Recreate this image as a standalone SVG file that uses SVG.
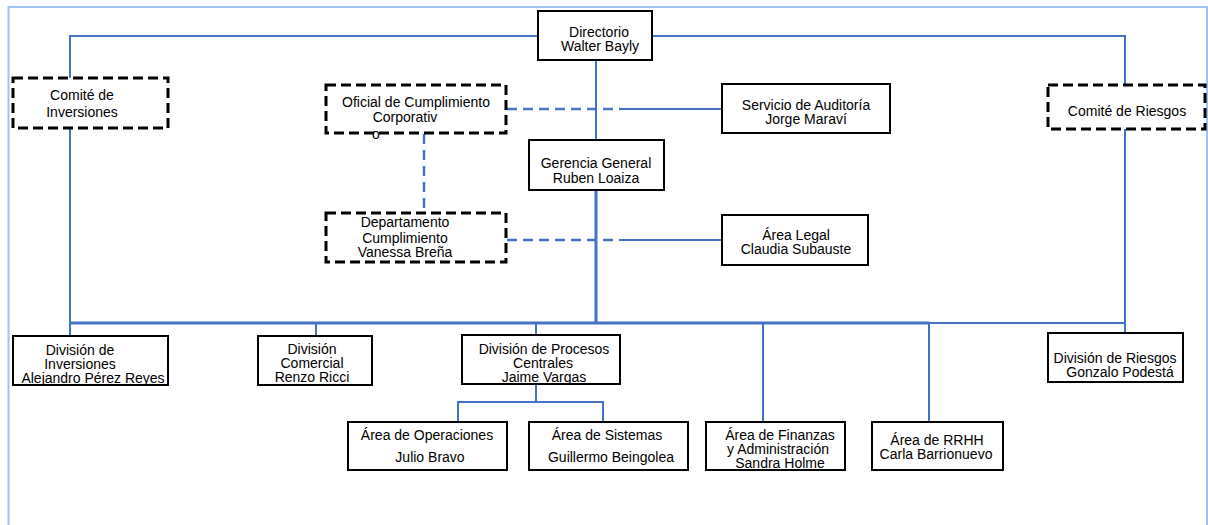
<svg xmlns="http://www.w3.org/2000/svg" width="1208" height="525" viewBox="0 0 1208 525">
<style>
.box{fill:#fff;stroke:#000;stroke-width:2}
.dbox{fill:#fff;stroke:#000;stroke-width:3;stroke-dasharray:10 5}
.ln{fill:none;stroke:#4472c4;stroke-width:2}
.thick{stroke-width:3}
.dl{fill:none;stroke:#4472c4;stroke-width:2.5;stroke-dasharray:10 6}
text{font-family:"Liberation Sans",Arial,sans-serif;font-size:14px;fill:#000;text-anchor:middle}
</style>
<rect width="1208" height="525" fill="#fff"/>
<path d="M8.5,525 V7 H1207 V525" fill="none" stroke="#9dc3f0" stroke-width="2"/>
<g id="connectors">
<path class="ln" d="M538,36 H70 V78"/>
<path class="ln" d="M652,36 H1125 V85"/>
<path class="ln" d="M70,129 V335"/>
<path class="ln" d="M1125,129 V338"/>
<path class="ln" d="M596,60 V140"/>
<path class="ln thick" d="M596,190 V323"/>
<path class="ln thick" d="M70,323 H929"/>
<path class="ln" d="M929,323 H1125"/>
<path class="ln" d="M316,323 V336"/>
<path class="ln" d="M536,323 V336"/>
<path class="ln" d="M763,323 V422"/>
<path class="ln" d="M929,323 V422"/>
<path class="ln" d="M536,384 V402 H458 V422"/>
<path class="ln" d="M536,402 H603 V422"/>
<path class="dl" d="M507,109 H620"/>
<path class="ln" d="M620,109 H722"/>
<path class="dl" d="M507,240 H620"/>
<path class="ln" d="M620,240 H722"/>
<path class="dl" d="M424,134 V213"/>
</g>
<g id="directorio"><rect class="box" x="538" y="11" width="114" height="49"/><text x="599" y="37">Directorio</text><text x="600" y="51">Walter Bayly</text></g>
<g id="comite-inversiones"><rect class="dbox" x="13" y="78" width="155" height="50"/><text x="82" y="100">Comité de</text><text x="82" y="117">Inversiones</text></g>
<g id="comite-riesgos"><rect class="dbox" x="1048" y="85" width="157" height="44"/><text x="1127" y="116">Comité de Riesgos</text></g>
<g id="oficial-cumplimiento"><rect class="dbox" x="326" y="85" width="180" height="48"/><text x="416" y="107">Oficial de Cumplimiento</text><text x="405" y="122">Corporativ</text><text x="376" y="139">o</text></g>
<g id="servicio-auditoria"><rect class="box" x="722" y="84" width="168" height="49"/><text x="806" y="110">Servicio de Auditoría</text><text x="806" y="124">Jorge Maraví</text></g>
<g id="gerencia-general"><rect class="box" x="529" y="140" width="135" height="50"/><text x="596" y="168">Gerencia General</text><text x="596" y="183">Ruben Loaiza</text></g>
<g id="departamento-cumplimiento"><rect class="dbox" x="326" y="213" width="180" height="49"/><text x="405" y="227">Departamento</text><text x="405" y="243">Cumplimiento</text><text x="405" y="257">Vanessa Breña</text></g>
<g id="area-legal"><rect class="box" x="722" y="215" width="146" height="50"/><text x="796" y="240">Área Legal</text><text x="796" y="254">Claudia Subauste</text></g>
<g id="division-inversiones"><rect class="box" x="13" y="336" width="155" height="49"/><text x="80" y="355">División de</text><text x="80" y="369">Inversiones</text><text x="93" y="383">Alejandro Pérez Reyes</text></g>
<g id="division-comercial"><rect class="box" x="258" y="336" width="114" height="49"/><text x="312" y="354">División</text><text x="312" y="368">Comercial</text><text x="312" y="382">Renzo Ricci</text></g>
<g id="division-procesos"><rect class="box" x="462" y="335" width="158" height="49"/><text x="544" y="354">División de Procesos</text><text x="543" y="368">Centrales</text><text x="544" y="382">Jaime Vargas</text></g>
<g id="division-riesgos"><rect class="box" x="1048" y="333" width="135" height="49"/><text x="1115" y="363">División de Riesgos</text><text x="1120" y="377">Gonzalo Podestá</text></g>
<g id="area-operaciones"><rect class="box" x="348" y="422" width="159" height="48"/><text x="427" y="440">Área de Operaciones</text><text x="430" y="462">Julio Bravo</text></g>
<g id="area-sistemas"><rect class="box" x="529" y="422" width="159" height="48"/><text x="607" y="440">Área de Sistemas</text><text x="611" y="462">Guillermo Beingolea</text></g>
<g id="area-finanzas"><rect class="box" x="706" y="422" width="139" height="48"/><text x="780" y="440">Área de Finanzas</text><text x="778" y="454">y Administración</text><text x="780" y="468">Sandra Holme</text></g>
<g id="area-rrhh"><rect class="box" x="872" y="422" width="131" height="48"/><text x="937" y="445">Área de RRHH</text><text x="936" y="459">Carla Barrionuevo</text></g>
</svg>
